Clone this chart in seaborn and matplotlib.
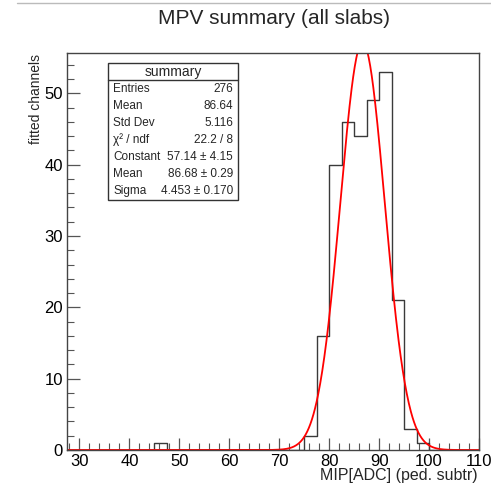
import numpy as np
import pandas as pd
import matplotlib
matplotlib.use("Agg")
import matplotlib.pyplot as plt
from matplotlib.patches import Rectangle
from matplotlib.lines import Line2D
from matplotlib.ticker import MultipleLocator
import seaborn as sns

# ---- data ----
x_range = (27.5, 110.0)
bin_width = 2.5
bin_lefts = [45.0, 75.0, 77.5, 80.0, 82.5, 85.0, 87.5, 90.0, 92.5, 95.0, 97.5]
bin_counts = [1, 2, 16, 40, 46, 44, 49, 53, 21, 3, 1]

fit_constant = 57.14
fit_mean = 86.68
fit_sigma = 4.453

stat_labels = ["Entries", "Mean", "Std Dev", "\u03c7\u00b2 / ndf", "Constant", "Mean", "Sigma"]
stat_values = ["276", "86.64", "5.116", "22.2 / 8", "57.14 \u00b1 4.15", "86.68 \u00b1 0.29", "4.453 \u00b1 0.170"]

title = "MPV summary (all slabs)"
xlabel = "MIP[ADC] (ped. subtr)"
ylabel = "fitted channels"
x_ticks = [30, 40, 50, 60, 70, 80, 90, 100, 110]
y_ticks = [0, 10, 20, 30, 40, 50]

# ---- style ----
sns.set_style("ticks")
plt.rcParams["font.family"] = ["Liberation Sans", "DejaVu Sans"]

W, H = 491, 488
fig = plt.figure(figsize=(W / 100, H / 100), dpi=100)
ax = fig.add_axes([67 / W, 38 / H, 412 / W, 397 / H])

df = pd.DataFrame({"x": [l + bin_width / 2 for l in bin_lefts], "w": bin_counts})
sns.histplot(data=df, x="x", weights="w", binwidth=bin_width, binrange=x_range,
             element="step", fill=False, color="#3a3a3a", linewidth=1.0, ax=ax)

xf = np.linspace(x_range[0], x_range[1], 800)
yf = fit_constant * np.exp(-0.5 * ((xf - fit_mean) / fit_sigma) ** 2)
sns.lineplot(x=xf, y=yf, color="red", linewidth=1.3, ax=ax)

ax.set_xlim(*x_range)
ax.set_ylim(0, max(bin_counts) * 1.05)
ax.set_xticks(x_ticks)
ax.set_yticks(y_ticks)
ax.xaxis.set_minor_locator(MultipleLocator(2))
ax.yaxis.set_minor_locator(MultipleLocator(2))
ax.tick_params(which="both", direction="in", top=False, right=False,
               color="#555555", labelsize=12, labelcolor="black")
ax.tick_params(which="major", length=9, width=0.9, pad=3)
ax.tick_params(which="minor", length=5, width=0.8)
for s in ax.spines.values():
    s.set_visible(True)
    s.set_color("#444444")
    s.set_linewidth(1.0)
ax.set_xlabel("")
ax.set_ylabel("")

def fy(py):
    return 1 - py / H

fig.text(274 / W, fy(18), title, ha="center", va="center", fontsize=15)
fig.text(478 / W, fy(480), xlabel, ha="right", va="baseline", fontsize=11.5)
fig.text(36 / W, fy(54), ylabel, ha="center", va="top", rotation=90, fontsize=10)

# top border line of the canvas
fig.add_artist(Line2D([17 / W, 1.0], [fy(3), fy(3)], transform=fig.transFigure,
                      color="#bbbbbb", linewidth=1.0))

# stats box
bx0, bx1, by0, by1, byh = 108, 238, 63, 200, 80
fig.add_artist(Rectangle((bx0 / W, fy(by1)), (bx1 - bx0) / W, (by1 - by0) / H,
                         transform=fig.transFigure, facecolor="white",
                         edgecolor="#333333", linewidth=1.0, zorder=5))
fig.add_artist(Line2D([bx0 / W, bx1 / W], [fy(byh), fy(byh)], transform=fig.transFigure,
                      color="#333333", linewidth=1.0, zorder=6))
fig.text((bx0 + bx1) / 2 / W, fy(71.5), "summary", ha="center", va="center",
         fontsize=10, zorder=7)
row_h = (by1 - byh) / len(stat_labels)
for i, (lab, val) in enumerate(zip(stat_labels, stat_values)):
    yy = fy(byh + row_h * (i + 0.5))
    fig.text((bx0 + 5) / W, yy, lab, ha="left", va="center", fontsize=8.5, zorder=7)
    fig.text((bx1 - 5) / W, yy, val, ha="right", va="center", fontsize=8.5, zorder=7)

fig.savefig("out.png", dpi=100)
